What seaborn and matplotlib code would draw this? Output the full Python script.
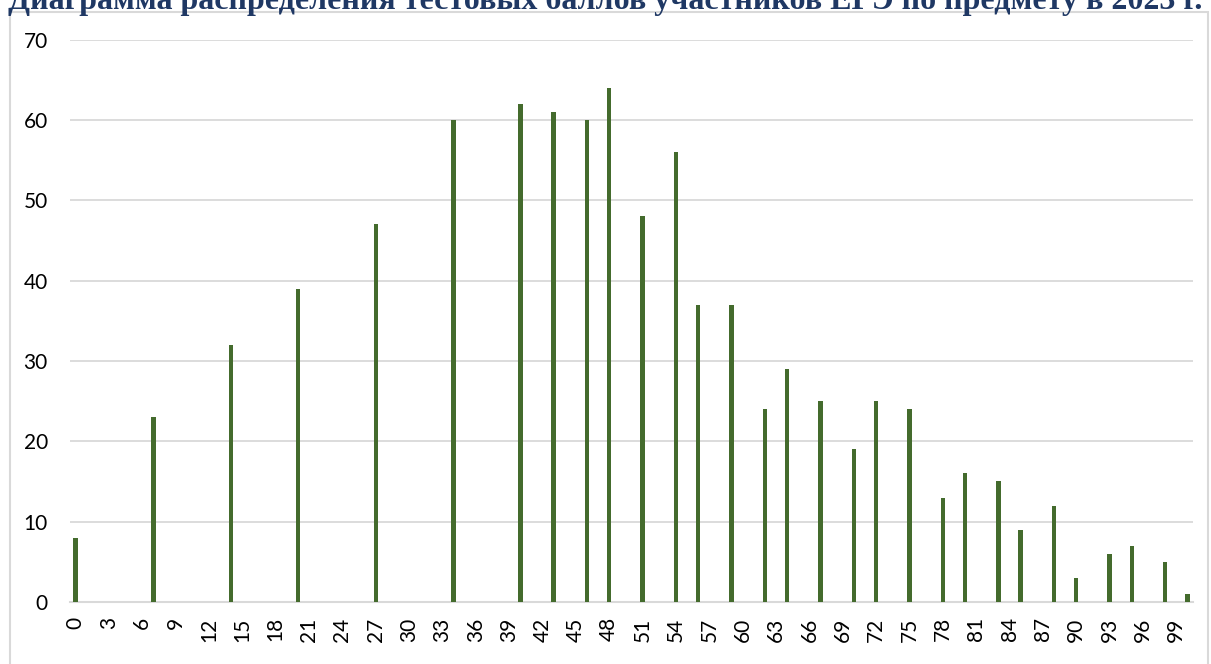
import matplotlib
matplotlib.use("Agg")
import matplotlib.pyplot as plt
import seaborn as sns
import pandas as pd
from matplotlib.patches import Rectangle

title = "Диаграмма распределения тестовых баллов участников ЕГЭ по предмету в 2023 г."
scores = [0, 7, 14, 20, 27, 34, 40, 43, 46, 48, 51, 54, 56, 59, 62, 64, 67,
          70, 72, 75, 78, 80, 83, 85, 88, 90, 93, 95, 98, 100]
counts = [8, 23, 32, 39, 47, 60, 62, 61, 60, 64, 48, 56, 37, 37, 24, 29, 25,
          19, 25, 24, 13, 16, 15, 9, 12, 3, 6, 7, 5, 1]
all_scores = list(range(0, 101))
tick_scores = list(range(0, 100, 3))
y_ticks = [0, 10, 20, 30, 40, 50, 60, 70]

sns.set_theme(style="white")
plt.rcParams['font.family'] = ['Lato', 'DejaVu Sans']

df = pd.DataFrame({"score": [str(s) for s in scores], "count": counts})
order = [str(s) for s in all_scores]

fig = plt.figure(figsize=(12.11, 6.64), dpi=100)
ax = fig.add_axes([70/1211, 1-602/664, (1193-70)/1211, (602-39.5)/664])

sns.barplot(data=df, x="score", y="count", order=order, color="#446B2D",
            saturation=1, width=0.4, linewidth=0, ax=ax, zorder=3)

ax.set_ylim(0, 70)
ax.set_yticks(y_ticks)
ax.set_yticklabels([str(v) for v in y_ticks], fontsize=15, color="#000000")
ax.set_xticks([all_scores.index(s) for s in tick_scores])
ax.set_xticklabels([str(s) for s in tick_scores], rotation=90, fontsize=15,
                   color="#000000", va="top", ha="center")
ax.tick_params(axis="y", length=0, pad=16)
ax.tick_params(axis="x", length=0, pad=11)
ax.set_xlabel("")
ax.set_ylabel("")
ax.grid(axis="y", color="#D9D9D9", linewidth=1.3, zorder=0)
ax.grid(axis="x", visible=False)
for side in ["top", "right", "left"]:
    ax.spines[side].set_visible(False)
ax.spines["bottom"].set_color("#D9D9D9")
ax.spines["bottom"].set_linewidth(1.5)
ax.spines["bottom"].set_zorder(2)

frame = Rectangle((10/1211, -0.1), (1208-10)/1211, 1-12/664+0.1,
                  transform=fig.transFigure, fill=False,
                  edgecolor="#D9D9D9", linewidth=1.5)
fig.patches.append(frame)

fig.text(0.5, 1-9/664, title, ha="center", va="baseline",
         family=["Liberation Serif"], fontweight="bold", fontsize=23.0,
         color="#1F3864")

fig.savefig("out.png", dpi=100)
